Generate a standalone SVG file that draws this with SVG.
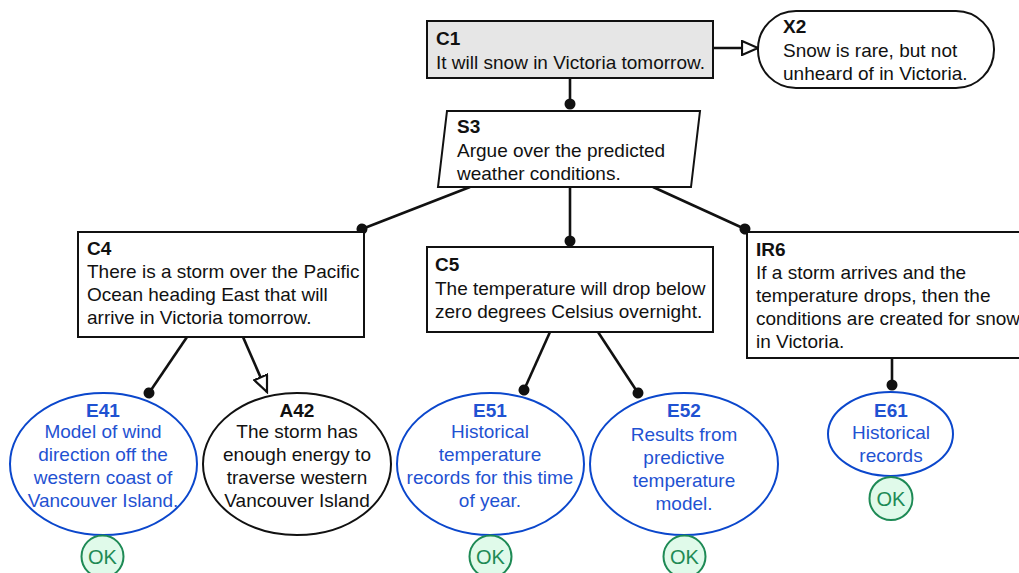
<svg xmlns="http://www.w3.org/2000/svg" width="1019" height="573" viewBox="0 0 1019 573">
  <defs>
    <style>
      text { font-family: "Liberation Sans", Arial, Helvetica, sans-serif; font-size: 19px; fill: #111; }
      .lbl { font-weight: bold; }
      .mid { text-anchor: middle; }
      .box { fill: #fff; stroke: #111; stroke-width: 2; }
      .claim { fill: #e6e6e6; stroke: #111; stroke-width: 2; }
      .ev { fill: #fff; stroke: #0b47cc; stroke-width: 2; }
      .ev-t { fill: #1f52d2; }
      .ok { fill: #e0faea; stroke: #1e8a55; stroke-width: 2; }
      .ok-t { fill: #1e8a55; font-size: 20px; text-anchor: middle; }
      .link { stroke: #111; stroke-width: 2.6; fill: none; }
      .dot { marker-end: url(#dot); }
      .open { marker-end: url(#tri); }
    </style>
    <marker id="dot" markerUnits="userSpaceOnUse" viewBox="-6 -6 12 12" refX="0" refY="0" markerWidth="12" markerHeight="12" orient="auto">
      <circle r="5.5" fill="#111"/>
    </marker>
    <marker id="tri" markerUnits="userSpaceOnUse" viewBox="-1 -1 19 16" refX="16" refY="7" markerWidth="19" markerHeight="16" orient="auto">
      <path d="M0,0 L16,7 L0,14 Z" fill="#fff" stroke="#111" stroke-width="2.2" stroke-linejoin="miter"/>
    </marker>
  </defs>

  <!-- connectors -->
  <g id="connectors">
    <line class="link dot" x1="570" y1="78" x2="570" y2="104"/>
    <line class="link open" x1="713" y1="48" x2="758" y2="48"/>
    <line class="link dot" x1="470" y1="187" x2="362" y2="229"/>
    <line class="link dot" x1="570" y1="187" x2="570" y2="241"/>
    <line class="link dot" x1="653" y1="187" x2="745" y2="229"/>
    <line class="link dot" x1="187" y1="337" x2="149" y2="393"/>
    <line class="link open" x1="243" y1="337" x2="267" y2="392"/>
    <line class="link dot" x1="550" y1="332" x2="524" y2="390"/>
    <line class="link dot" x1="598" y1="332" x2="638" y2="393"/>
    <line class="link dot" x1="892" y1="358" x2="892" y2="385"/>
  </g>

  <g id="C1">
    <rect class="claim" x="427" y="21" width="286" height="57"/>
    <text class="lbl" x="436" y="45">C1</text>
    <text x="436" y="69">It will snow in Victoria tomorrow.</text>
  </g>

  <g id="X2">
    <rect class="box" x="758" y="11" width="236" height="77" rx="38" ry="38"/>
    <text class="lbl" x="783" y="33">X2</text>
    <text x="783" y="57">Snow is rare, but not</text>
    <text x="783" y="80">unheard of in Victoria.</text>
  </g>

  <g id="S3">
    <polygon class="box" points="447,111 700,111 691,187 438,187"/>
    <text class="lbl" x="457" y="133">S3</text>
    <text x="457" y="157">Argue over the predicted</text>
    <text x="457" y="180">weather conditions.</text>
  </g>

  <g id="C4">
    <rect class="box" x="78" y="232" width="286" height="105"/>
    <text class="lbl" x="87" y="255">C4</text>
    <text x="87" y="278">There is a storm over the Pacific</text>
    <text x="87" y="301">Ocean heading East that will</text>
    <text x="87" y="324">arrive in Victoria tomorrow.</text>
  </g>

  <g id="C5">
    <rect class="box" x="427" y="247" width="286" height="85"/>
    <text class="lbl" x="435" y="271">C5</text>
    <text x="435" y="295">The temperature will drop below</text>
    <text x="435" y="318">zero degrees Celsius overnight.</text>
  </g>

  <g id="IR6">
    <rect class="box" x="747" y="232" width="290" height="126"/>
    <text class="lbl" x="756" y="256">IR6</text>
    <text x="756" y="279">If a storm arrives and the</text>
    <text x="756" y="302">temperature drops, then the</text>
    <text x="756" y="325">conditions are created for snow</text>
    <text x="756" y="348">in Victoria.</text>
  </g>

  <g id="E41">
    <ellipse class="ev" cx="103.5" cy="464" rx="93.5" ry="71"/>
    <text class="lbl mid ev-t" x="103" y="417">E41</text>
    <text class="mid ev-t" x="103" y="438">Model of wind</text>
    <text class="mid ev-t" x="103" y="461">direction off the</text>
    <text class="mid ev-t" x="103" y="484">western coast of</text>
    <text class="mid ev-t" x="103" y="507">Vancouver Island.</text>
    <circle class="ok" cx="102.5" cy="556.5" r="21"/>
    <text class="ok-t" x="102.5" y="563.5">OK</text>
  </g>

  <g id="A42">
    <ellipse class="box" cx="297" cy="464" rx="94" ry="71"/>
    <text class="lbl mid" x="297" y="417">A42</text>
    <text class="mid" x="297" y="438">The storm has</text>
    <text class="mid" x="297" y="461">enough energy to</text>
    <text class="mid" x="297" y="484">traverse western</text>
    <text class="mid" x="297" y="507">Vancouver Island</text>
  </g>

  <g id="E51">
    <ellipse class="ev" cx="490.5" cy="464" rx="93.5" ry="71"/>
    <text class="lbl mid ev-t" x="490" y="417">E51</text>
    <text class="mid ev-t" x="490" y="438">Historical</text>
    <text class="mid ev-t" x="490" y="461">temperature</text>
    <text class="mid ev-t" x="490" y="484">records for this time</text>
    <text class="mid ev-t" x="490" y="507">of year.</text>
    <circle class="ok" cx="490.5" cy="556.5" r="21"/>
    <text class="ok-t" x="490.5" y="563.5">OK</text>
  </g>

  <g id="E52">
    <ellipse class="ev" cx="684" cy="464" rx="94" ry="71"/>
    <text class="lbl mid ev-t" x="684" y="417">E52</text>
    <text class="mid ev-t" x="684" y="441">Results from</text>
    <text class="mid ev-t" x="684" y="464">predictive</text>
    <text class="mid ev-t" x="684" y="487">temperature</text>
    <text class="mid ev-t" x="684" y="510">model.</text>
    <circle class="ok" cx="684.5" cy="556.5" r="21"/>
    <text class="ok-t" x="684.5" y="563.5">OK</text>
  </g>

  <g id="E61">
    <ellipse class="ev" cx="890.5" cy="434" rx="62.5" ry="42"/>
    <text class="lbl mid ev-t" x="891" y="417">E61</text>
    <text class="mid ev-t" x="891" y="439">Historical</text>
    <text class="mid ev-t" x="891" y="462">records</text>
    <circle class="ok" cx="891" cy="498.5" r="21.5"/>
    <text class="ok-t" x="891" y="505.5">OK</text>
  </g>
</svg>
